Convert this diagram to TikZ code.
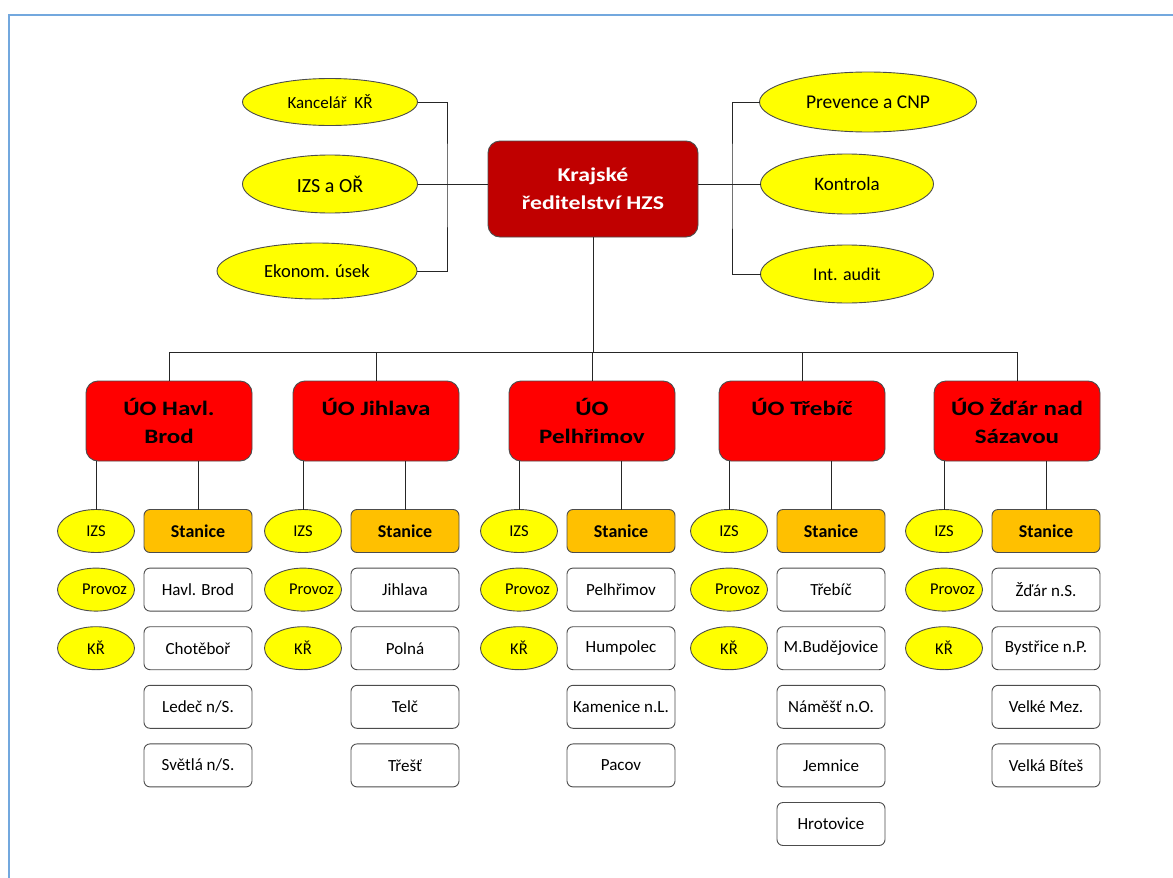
\documentclass[tikz,border=0pt]{standalone}
\usepackage{fontspec}
\setmainfont{Carlito}
\newfontfamily\sirokecarlito[FakeStretch=1.22]{Carlito}
\usetikzlibrary{positioning, shapes.geometric}

\definecolor{hzsdark}{RGB}{192,0,0}
\definecolor{hzsred}{RGB}{255,0,0}
\definecolor{hzsyellow}{RGB}{255,255,0}
\definecolor{hzsorange}{RGB}{255,192,0}
\definecolor{framebl}{RGB}{115,168,222}

\begin{document}
\begin{tikzpicture}[x=1pt, y=-1pt,
        every node/.style={inner sep=0pt, outer sep=0pt, draw=black!70, line width=0.9pt},
        vedeni/.style={rectangle, rounded corners=12pt, fill=hzsdark, text=white,
            font=\sirokecarlito\fontsize{19.5}{28}\selectfont\bfseries, align=center,
            minimum width=210pt, minimum height=96pt},
        utvar/.style={rectangle, rounded corners=12pt, fill=hzsred, align=center,
            font=\sirokecarlito\fontsize{20.5}{28}\selectfont\bfseries,
            minimum width=166pt, minimum height=80pt},
        odbor/.style={ellipse, fill=hzsyellow},
        slozka/.style={ellipse, fill=hzsyellow, minimum width=77pt, minimum height=43pt,
            font=\fontsize{16.5}{18}\selectfont},
        stanice/.style={rectangle, rounded corners=6pt, fill=hzsorange,
            minimum width=108pt, minimum height=43pt, font=\fontsize{18}{20}\selectfont\bfseries},
        pobocka/.style={rectangle, rounded corners=6pt, fill=white,
            minimum width=108pt, minimum height=43pt, font=\fontsize{17}{20}\selectfont},
        spoj/.style={black!85, line width=0.9pt}
    ]
    \useasboundingbox (0,0) rectangle (1173,878);

    % Rahmen
    \draw[framebl, line width=2pt] (8.5,878) -- (8.5,15) -- (1173,15);

    % Vedeni
    \node[vedeni] (hq) at (593,189) {Krajské\\ředitelství HZS};

    % Odbory vlevo a vpravo
    \node[odbor, minimum width=175pt, minimum height=47pt, font=\fontsize{17}{20}\selectfont] (kanc) at (330,102) {Kancelář~~KŘ};
    \node[odbor, minimum width=175pt, minimum height=58pt, font=\fontsize{20}{22}\selectfont] (izsor) at (330,184) {IZS a OŘ};
    \node[odbor, minimum width=200pt, minimum height=56pt, font=\fontsize{18.5}{22}\selectfont] (ekon) at (317,271) {Ekonom. úsek};
    \node[odbor, minimum width=217pt, minimum height=60pt, font=\fontsize{19.5}{22}\selectfont] (prev) at (868,102) {Prevence a CNP};
    \node[odbor, minimum width=173pt, minimum height=60pt, font=\fontsize{19}{22}\selectfont] (kontr) at (847,184) {Kontrola};
    \node[odbor, minimum width=173pt, minimum height=58pt, font=\fontsize{18}{22}\selectfont] (audit) at (847,274) {Int. audit};

    \coordinate (lbus) at (447,0);
    \coordinate (rbus) at (732,0);
    \coordinate (sbern) at (0,352);

    \draw[spoj] (kanc.east) -| (lbus |- izsor.east) |- (ekon.east);
    \draw[spoj] (izsor.east) -- (hq.west |- izsor.east);
    \draw[spoj] (prev.west) -| (rbus |- kontr.west) |- (audit.west);
    \draw[spoj] (kontr.west) -- (hq.east |- kontr.west);

    % Uzemni odbory
    \foreach \n/\x/\nazev in {1/169/{ÚO Havl.\\Brod}, 2/376/{ÚO Jihlava\\\mbox{}},
            3/592/{ÚO\\Pelhřimov}, 4/802/{ÚO Třebíč\\\mbox{}}, 5/1017/{ÚO Žďár nad\\Sázavou}} {
        \node[utvar] (uo\n) at (\x,421) {\nazev};
        \draw[spoj] (uo\n.north) -- (uo\n.north |- sbern);
    }
    \draw[spoj] (hq.south) -- (hq.south |- sbern);
    \draw[spoj] (uo1.north |- sbern) -- (uo5.north |- sbern);

    % Slozky a stanice pod kazdym UO
    \foreach \n in {1,...,5} {
        \node[slozka] (izs\n) at ([xshift=-73pt, yshift=-110pt]uo\n.center) {IZS};
        \node[slozka] (prov\n) at ([xshift=-73pt, yshift=-168.6pt]uo\n.center) {\makebox[0pt][l]{\hspace{-14pt}Provoz}};
        \node[slozka] (kr\n) at ([xshift=-73pt, yshift=-227.2pt]uo\n.center) {KŘ};
        \node[stanice] (stan\n) at ([xshift=29pt, yshift=-110pt]uo\n.center) {Stanice};
        \draw[spoj] (uo\n.south -| izs\n.north) -- (izs\n.north);
        \draw[spoj] (uo\n.south -| stan\n.north) -- (stan\n.north);
    }

    % Jednotlive stanice
    \foreach \n/\seznam in {1/{Havl. Brod,Chotěboř,Ledeč n/S.,Světlá n/S.},
            2/{Jihlava,Polná,Telč,Třešť},
            3/{Pelhřimov,Humpolec,Kamenice n.L.,Pacov},
            4/{Třebíč,M.Budějovice,Náměšť n.O.,Jemnice,Hrotovice},
            5/{Žďár n.S.,Bystřice n.P.,Velké Mez.,Velká Bíteš}} {
        \foreach \s [count=\k] in \seznam {
            \node[pobocka] (st\n-\k) at ([yshift={-58.6*\k}]stan\n.center) {\s};
        }
    }

\end{tikzpicture}
\end{document}
